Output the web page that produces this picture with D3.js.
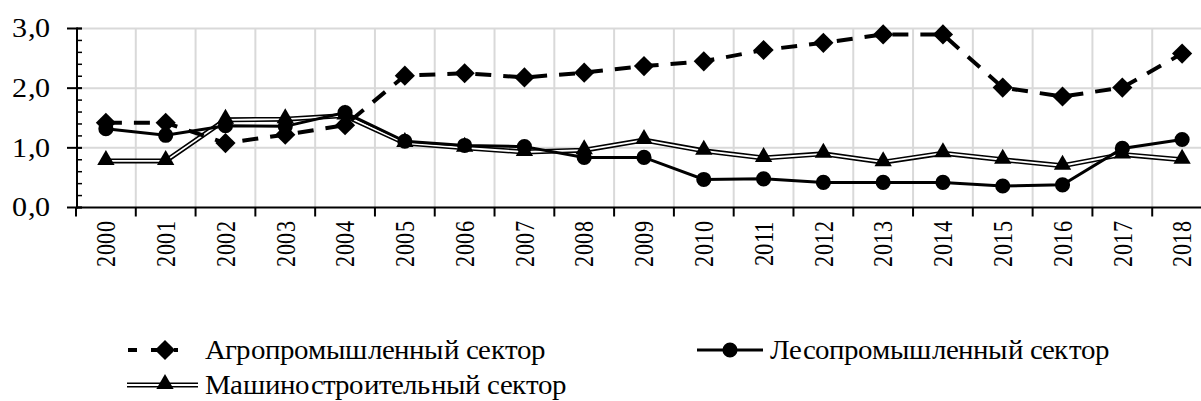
<!DOCTYPE html>
<html><head><meta charset="utf-8">
<script src="https://cdn.jsdelivr.net/npm/d3@7"></script>
<style>
  @font-face { font-family: "RefSerif"; src: local("Liberation Serif"), local("LiberationSerif"), local("Tinos"); }
</style>
</head>
<body style="margin:0">
<script>
// data
var years = ["2000","2001","2002","2003","2004","2005","2006","2007","2008","2009",
             "2010","2011","2012","2013","2014","2015","2016","2017","2018"];
var agro   = [1.42,1.42,1.08,1.22,1.38,2.21,2.25,2.18,2.26,2.37,2.45,2.64,2.76,2.90,2.90,2.01,1.86,2.01,2.58];
var forest = [1.32,1.21,1.37,1.36,1.59,1.11,1.04,1.02,0.84,0.84,0.47,0.48,0.42,0.42,0.42,0.36,0.38,0.99,1.14];
var machine= [0.78,0.78,1.47,1.48,1.54,1.08,1.00,0.93,0.96,1.13,0.95,0.83,0.90,0.76,0.91,0.80,0.70,0.89,0.80];
var yTicks = [0, 1, 2, 3];
var names = ["Агропромышленный сектор", "Лесопромышленный сектор", "Машиностроительный сектор"];

var FONT = "RefSerif, 'Liberation Serif', serif";
var width = 1201, height = 401;
var svg = d3.select("body").append("svg")
    .attr("width", width)
    .attr("height", height)
    .style("display", "block");

var x = d3.scaleBand().domain(years).range([76, 1212]);
var y = d3.scaleLinear().domain([0, 3]).range([207.5, 28.5]);
var fmt = function(d) { return d3.format(".1f")(d).replace(".", ","); };

// squeeze/stretch a text along its own x axis to a target length
function fitWidth(sel, target, tf) {
  sel.each(function(d, i) {
    var len = this.getComputedTextLength() || target;
    d3.select(this).attr("transform", tf(d, i) + " scale(" + (target / len) + ",1)");
  });
}

// grid
var grid = svg.append("g");
grid.selectAll(".hg").data(yTicks.filter(function(d){ return d > 0; }))
  .enter().append("line")
    .attr("x1", 77).attr("x2", width)
    .attr("y1", function(d){ return y(d); }).attr("y2", function(d){ return y(d); })
    .attr("stroke", "#d9d9d9").attr("stroke-width", 2);
grid.selectAll(".vg").data(years.slice(1))
  .enter().append("line")
    .attr("x1", function(d){ return x(d); }).attr("x2", function(d){ return x(d); })
    .attr("y1", y(3)).attr("y2", y(0))
    .attr("stroke", "#d9d9d9").attr("stroke-width", 2);

// y axis
var yAxis = svg.append("g");
yAxis.append("line").attr("x1", 77).attr("x2", 77).attr("y1", y(3) - 1).attr("y2", y(0) + 1)
  .attr("stroke", "#000").attr("stroke-width", 2);
yAxis.selectAll(".minor").data(d3.range(0, 3.01, 0.2))
  .enter().append("line")
    .attr("x1", 77).attr("x2", 82)
    .attr("y1", function(d){ return y(d); }).attr("y2", function(d){ return y(d); })
    .attr("stroke", "#000").attr("stroke-width", 1.5);
yAxis.selectAll(".major").data(yTicks)
  .enter().append("line")
    .attr("x1", 67).attr("x2", 82)
    .attr("y1", function(d){ return y(d); }).attr("y2", function(d){ return y(d); })
    .attr("stroke", "#000").attr("stroke-width", 2);
var yLab = yAxis.selectAll("text").data(yTicks)
  .enter().append("text")
    .attr("dy", "0.33em")
    .attr("text-anchor", "end")
    .style("font-family", FONT)
    .style("font-size", "27px")
    .text(fmt);
fitWidth(yLab, 39, function(d){ return "translate(51," + y(d) + ")"; });

// x axis
var xAxis = svg.append("g");
xAxis.append("line").attr("x1", 76).attr("x2", width).attr("y1", y(0)).attr("y2", y(0))
  .attr("stroke", "#000").attr("stroke-width", 2);
xAxis.selectAll(".tk").data(years)
  .enter().append("line")
    .attr("x1", function(d){ return x(d); }).attr("x2", function(d){ return x(d); })
    .attr("y1", y(0)).attr("y2", y(0) + 9)
    .attr("stroke", "#000").attr("stroke-width", 2);
var xLab = xAxis.selectAll("text").data(years)
  .enter().append("text")
    .attr("dy", "0.33em")
    .attr("text-anchor", "end")
    .style("font-family", FONT)
    .style("font-size", "25px")
    .text(function(d){ return d; });
fitWidth(xLab, 46, function(d){ return "translate(" + (x(d) + x.bandwidth() / 2) + ",221) rotate(-90) scale(1,1.12)"; });

var cx = function(d, i){ return x(years[i]) + x.bandwidth() / 2; };
var line = d3.line().x(cx).y(function(d){ return y(d); });

var diamond = d3.symbol().type(d3.symbolDiamond2).size(260);
var circle = d3.symbol().type(d3.symbolCircle).size(180);
var triangle = d3.symbol().type(d3.symbolTriangle).size(130);

// machine: double line
svg.append("path").datum(machine).attr("d", line)
  .attr("fill", "none").attr("stroke", "#000").attr("stroke-width", 5);
svg.append("path").datum(machine).attr("d", line)
  .attr("fill", "none").attr("stroke", "#fff").attr("stroke-width", 1.8);
svg.selectAll(".tri").data(machine).enter().append("path")
  .attr("d", triangle)
  .attr("transform", function(d, i){ return "translate(" + cx(d, i) + "," + (y(d) - 1) + ")"; });

// agro: dashed
svg.append("path").datum(agro).attr("d", line)
  .attr("fill", "none").attr("stroke", "#000").attr("stroke-width", 4)
  .attr("stroke-dasharray", "16,12");
svg.selectAll(".dia").data(agro).enter().append("path")
  .attr("d", diamond)
  .attr("transform", function(d, i){ return "translate(" + cx(d, i) + "," + y(d) + ")"; });

// forest: solid
svg.append("path").datum(forest).attr("d", line)
  .attr("fill", "none").attr("stroke", "#000").attr("stroke-width", 3);
svg.selectAll(".cir").data(forest).enter().append("path")
  .attr("d", circle)
  .attr("transform", function(d, i){ return "translate(" + cx(d, i) + "," + y(d) + ")"; });

// legend
var lg = svg.append("g");
var r1 = 350, r2 = 385;
lg.append("line").attr("x1", 128).attr("x2", 190).attr("y1", r1).attr("y2", r1)
  .attr("stroke", "#000").attr("stroke-width", 4).attr("stroke-dasharray", "9,14,9,14,4,20");
lg.append("path").attr("d", diamond).attr("transform", "translate(165," + r1 + ")");
lg.append("line").attr("x1", 697).attr("x2", 763).attr("y1", r1).attr("y2", r1)
  .attr("stroke", "#000").attr("stroke-width", 3);
lg.append("path").attr("d", circle).attr("transform", "translate(730," + r1 + ")");
lg.append("line").attr("x1", 127).attr("x2", 198).attr("y1", r2).attr("y2", r2)
  .attr("stroke", "#000").attr("stroke-width", 5);
lg.append("line").attr("x1", 127).attr("x2", 198).attr("y1", r2).attr("y2", r2)
  .attr("stroke", "#fff").attr("stroke-width", 1.8);
lg.append("path").attr("d", triangle).attr("transform", "translate(165," + (r2 - 1) + ")");

var lx = [205, 770, 205], ly = [r1, r1, r2];
var lt = lg.selectAll("text").data(names).enter().append("text")
  .attr("dy", "0.33em")
  .style("font-family", FONT)
  .style("font-size", "28px")
  .text(function(d){ return d; });
// one common stretch for all legend texts, set from the forest label
var k = 345 / (lt.nodes()[1].getComputedTextLength() || 345);
lt.attr("transform", function(d, i){ return "translate(" + lx[i] + "," + ly[i] + ") scale(" + k + ",1)"; });
</script>
</body></html>
